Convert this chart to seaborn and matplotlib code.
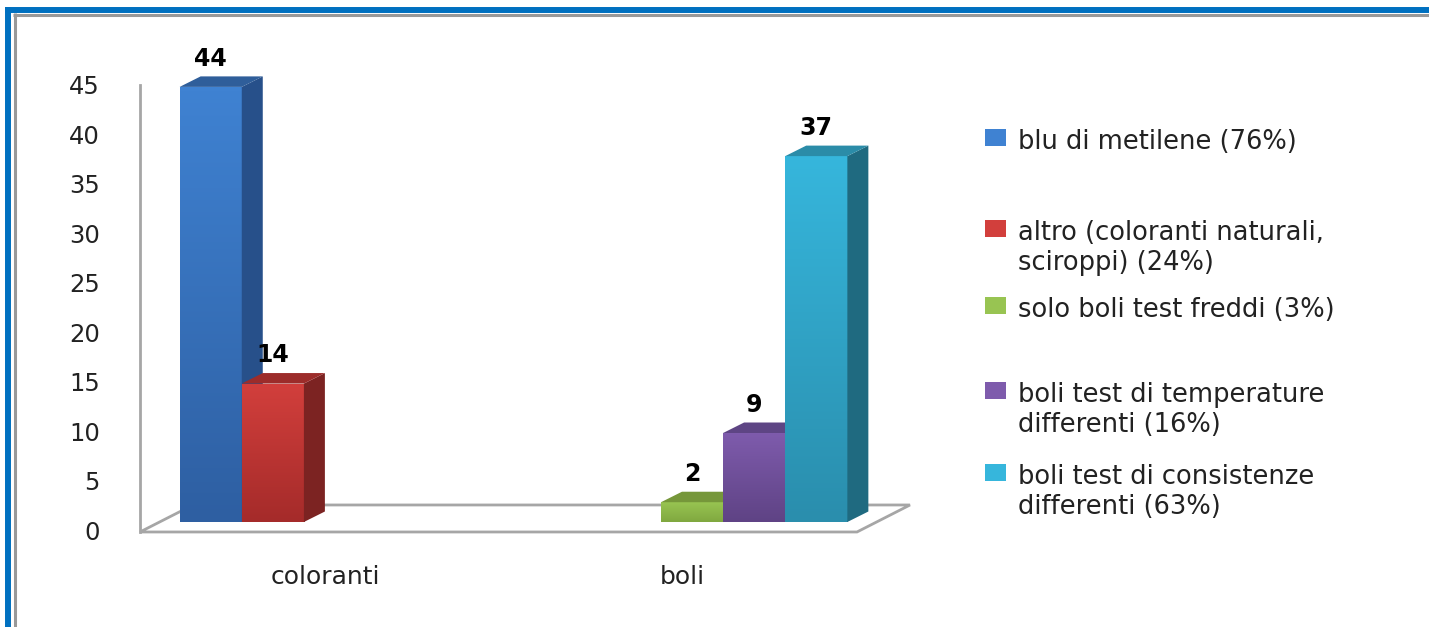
import numpy as np
import pandas as pd
import matplotlib
matplotlib.use("Agg")
import matplotlib.pyplot as plt
import seaborn as sns
from matplotlib.patches import Polygon, Patch
from matplotlib.lines import Line2D
from matplotlib.colors import LinearSegmentedColormap
from matplotlib.transforms import ScaledTranslation

# ---------------- data ----------------
categories = ["coloranti", "boli"]
series = [
    "blu di metilene (76%)",
    "altro (coloranti naturali,\nsciroppi) (24%)",
    "solo boli test freddi (3%)",
    "boli test di temperature\ndifferenti (16%)",
    "boli test di consistenze\ndifferenti (63%)",
]
series_category = ["coloranti", "coloranti", "boli", "boli", "boli"]
values = [44, 14, 2, 9, 37]
y_ticks = [0, 5, 10, 15, 20, 25, 30, 35, 40, 45]

# colours (front top / front bottom / side / top face)
col_light = ["#3F82D2", "#D23F3C", "#98C452", "#7E5BAC", "#36B6DC"]
col_dark = ["#2E5FA2", "#A52B2A", "#80A83F", "#5F4385", "#2A8EAD"]
col_side = ["#27508A", "#7C2322", "#6C8C33", "#553C79", "#1F6A80"]
col_top = ["#2F5E9A", "#9C2C2A", "#76973A", "#5E4584", "#2B8CA8"]

df = pd.DataFrame({"categoria": series_category, "serie": series, "valore": values})

# ---------------- figure ----------------
W, H = 1429, 627
fig = plt.figure(figsize=(W / 100, H / 100), dpi=100)
sns.set_style("white")
plt.rcParams["font.family"] = ["DejaVu Sans"]

ax_left, ax_bottom, ax_w, ax_h = 140, 97, 717, 445
ax = fig.add_axes([ax_left / W, ax_bottom / H, ax_w / W, ax_h / H])

sns.barplot(data=df, x="categoria", y="valore", hue="serie", order=categories,
            hue_order=series, palette=dict(zip(series, col_light)), width=0.87,
            saturation=1, dodge=True, legend=False, ax=ax, errorbar=None)

xmin, xmax = -0.546, 1.462
ymin, ymax = 0, 45
ax.set_xlim(xmin, xmax)
ax.set_ylim(ymin, ymax)

px_x = (xmax - xmin) / ax_w
px_y = (ymax - ymin) / ax_h
dx, dy = 21 * px_x, 10.5 * px_y

# bars sit in the middle of the 3D floor: lift them a little (perspective depth)
lift = ScaledTranslation(0, 8 / 100, fig.dpi_scale_trans)
tr = ax.transData + lift

# floor (3D base)
fdx, fdy = 53 * px_x, 27 * px_y
fy = -0.2
floor = Polygon([(xmin, fy), (xmax, fy), (xmax + fdx, fy + fdy), (xmin + fdx, fy + fdy)],
                closed=True, facecolor="white", edgecolor="#A6A6A6", lw=2,
                zorder=1, clip_on=False)
ax.add_patch(floor)

# 3D bars (containers come in hue order)
bars = [(p, i) for i, cont in enumerate(ax.containers) for p in cont.patches]
for p, idx in bars:
    x0, y0, w, h = p.get_x(), p.get_y(), p.get_width(), p.get_height()
    if np.isnan(h):
        continue
    z = 3 + idx
    p.set_zorder(z)
    p.set_edgecolor("none")
    p.set_transform(tr)
    p.set_clip_on(False)
    cmap = LinearSegmentedColormap.from_list("g", [col_dark[idx], col_light[idx]])
    grad = np.linspace(0, 1, 64).reshape(-1, 1)
    im = ax.imshow(grad, extent=[x0, x0 + w, y0, y0 + h], origin="lower", cmap=cmap,
                   aspect="auto", zorder=z + 0.01, interpolation="bilinear")
    im.set_transform(tr)
    im.set_clip_path(p)
    side = Polygon([(x0 + w, y0), (x0 + w + dx, y0 + dy), (x0 + w + dx, y0 + h + dy), (x0 + w, y0 + h)],
                   closed=True, facecolor=col_side[idx], edgecolor="none", zorder=z + 0.02,
                   clip_on=False, transform=tr)
    top = Polygon([(x0, y0 + h), (x0 + dx, y0 + h + dy), (x0 + w + dx, y0 + h + dy), (x0 + w, y0 + h)],
                  closed=True, facecolor=col_top[idx], edgecolor="none", zorder=z + 0.02,
                  clip_on=False, transform=tr)
    ax.add_patch(side)
    ax.add_patch(top)
    ax.annotate(f"{h:.0f}", xy=(x0 + w / 2, y0 + h + dy), xycoords=tr, xytext=(0, 4),
                textcoords="offset points", ha="center", va="bottom",
                fontsize=17, fontweight="bold", color="black", zorder=20,
                annotation_clip=False)

ax.set_xlim(xmin, xmax)
ax.set_ylim(ymin, ymax)

# axes styling
for s in ["top", "right", "bottom"]:
    ax.spines[s].set_visible(False)
ax.spines["left"].set_color("#A6A6A6")
ax.spines["left"].set_linewidth(2)
ax.spines["left"].set_bounds(fy, ymax)
ax.set_yticks(y_ticks)
ax.set_yticklabels([str(t) for t in y_ticks])
ax.tick_params(axis="y", length=0, pad=29, labelsize=17.5, labelcolor="#222222")
ax.tick_params(axis="x", length=0, pad=25, labelsize=18, labelcolor="#222222")
shift_left = ScaledTranslation(-10 / 100, 0, fig.dpi_scale_trans)
for lbl in ax.get_xticklabels():
    lbl.set_transform(lbl.get_transform() + shift_left)
ax.set_xlabel("")
ax.set_ylabel("")
ax.patch.set_alpha(0)

# legend: one entry per series, placed like the reference
legend_tops = [129, 220, 297, 382, 464]
for i, (lab, top_px) in enumerate(zip(series, legend_tops)):
    leg = ax.legend(handles=[Patch(facecolor=col_light[i], edgecolor="none")], labels=[lab],
                    loc="upper left", bbox_to_anchor=(985 / W, 1 - top_px / H),
                    bbox_transform=fig.transFigure, frameon=False, fontsize=18.5,
                    handlelength=0.82, handleheight=0.66, handletextpad=0.45,
                    borderpad=0, borderaxespad=0, labelcolor="#222222")
    for col in leg._legend_handle_box.get_children():
        for item in col.get_children():
            item.align = "top"
    ax.add_artist(leg)
ax.legend_ = None

# frame lines of the slide
fig.add_artist(Line2D([5 / W, 1], [1 - 10 / H, 1 - 10 / H], transform=fig.transFigure,
                      color="#0070C0", lw=4.3, solid_capstyle="butt"))
fig.add_artist(Line2D([8 / W, 8 / W], [0, 1 - 7 / H], transform=fig.transFigure,
                      color="#0070C0", lw=4.3, solid_capstyle="butt"))
fig.add_artist(Line2D([13 / W, 1], [1 - 14.5 / H, 1 - 14.5 / H], transform=fig.transFigure,
                      color="#999999", lw=2.2, solid_capstyle="butt"))
fig.add_artist(Line2D([15 / W, 15 / W], [0, 1 - 13 / H], transform=fig.transFigure,
                      color="#999999", lw=2.2, solid_capstyle="butt"))

fig.savefig("out.png", dpi=100, facecolor="white")
